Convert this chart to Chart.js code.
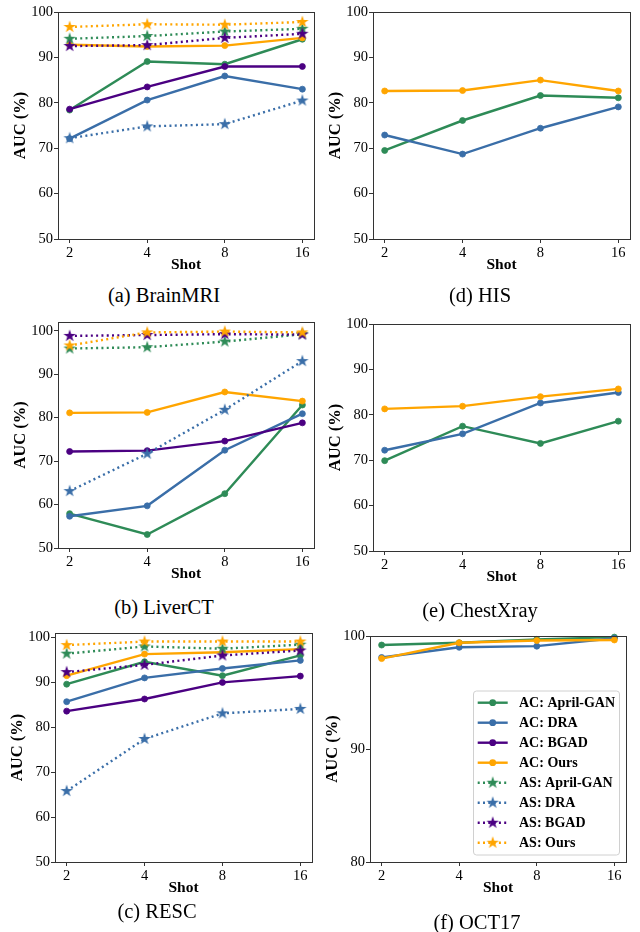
<!DOCTYPE html>
<html>
<head>
<meta charset="utf-8">
<script src="https://cdn.jsdelivr.net/npm/chart.js@4.4.0/dist/chart.umd.min.js"></script>
<style>
  body { margin: 0; background: #fff; width: 640px; height: 932px; position: relative; overflow: hidden; font-family: "Liberation Serif", serif; }
  canvas { position: absolute; }
  .cap { position: absolute; width: 320px; text-align: center; font-size: 20.5px; line-height: 24px; color: #000; white-space: nowrap; }
</style>
</head>
<body>
<canvas id="cA"></canvas>
<canvas id="cD"></canvas>
<canvas id="cB"></canvas>
<canvas id="cE"></canvas>
<canvas id="cC"></canvas>
<canvas id="cF"></canvas>
<div class="cap" style="left:4px;top:283px">(a) BrainMRI</div>
<div class="cap" style="left:320px;top:283px">(d) HIS</div>
<div class="cap" style="left:4px;top:595px">(b) LiverCT</div>
<div class="cap" style="left:320px;top:598px">(e) ChestXray</div>
<div class="cap" style="left:-3px;top:899px">(c) RESC</div>
<div class="cap" style="left:317px;top:910px">(f) OCT17</div>
<script>
// x categories and y tick labels
const shots = ['2', '4', '8', '16'];
const ticksAUC = [50, 60, 70, 80, 90, 100];
const ticksOCT = [80, 90, 100];
const methods = ['AC: April-GAN', 'AC: DRA', 'AC: BGAD', 'AC: Ours',
                 'AS: April-GAN', 'AS: DRA', 'AS: BGAD', 'AS: Ours'];

// (a) BrainMRI
const brain_AC_AprilGAN = [78.4, 89.1, 88.5, 94.0];
const brain_AC_DRA      = [72.1, 80.6, 85.9, 83.0];
const brain_AC_BGAD     = [78.6, 83.5, 88.0, 88.0];
const brain_AC_Ours     = [92.8, 92.4, 92.6, 94.3];
const brain_AS_AprilGAN = [94.1, 94.7, 95.7, 96.3];
const brain_AS_DRA      = [72.2, 74.8, 75.3, 80.5];
const brain_AS_BGAD     = [92.5, 92.7, 94.3, 95.2];
const brain_AS_Ours     = [96.7, 97.3, 97.2, 97.8];

// (d) HIS
const his_AC_AprilGAN = [69.5, 76.1, 81.6, 81.1];
const his_AC_DRA      = [72.9, 68.7, 74.4, 79.1];
const his_AC_Ours     = [82.6, 82.7, 85.0, 82.6];

// (b) LiverCT
const liver_AC_AprilGAN = [57.9, 53.1, 62.5, 82.9];
const liver_AC_DRA      = [57.3, 59.7, 72.5, 80.9];
const liver_AC_BGAD     = [72.2, 72.4, 74.6, 78.8];
const liver_AC_Ours     = [81.1, 81.2, 85.9, 83.8];
const liver_AS_AprilGAN = [95.9, 96.2, 97.5, 99.2];
const liver_AS_DRA      = [63.1, 71.7, 81.8, 93.0];
const liver_AS_BGAD     = [98.8, 99.0, 99.2, 99.1];
const liver_AS_Ours     = [96.6, 99.6, 99.8, 99.6];

// (e) ChestXray
const chest_AC_AprilGAN = [69.9, 77.5, 73.7, 78.6];
const chest_AC_DRA      = [72.2, 75.8, 82.6, 84.9];
const chest_AC_Ours     = [81.3, 81.9, 84.0, 85.7];

// (c) RESC
const resc_AC_AprilGAN = [89.6, 94.6, 91.5, 96.0];
const resc_AC_DRA      = [85.7, 91.0, 93.1, 94.9];
const resc_AC_BGAD     = [83.6, 86.3, 90.0, 91.4];
const resc_AC_Ours     = [91.5, 96.3, 96.7, 97.4];
const resc_AS_AprilGAN = [96.4, 98.0, 97.5, 98.4];
const resc_AS_DRA      = [65.8, 77.4, 83.1, 84.1];
const resc_AS_BGAD     = [92.3, 93.9, 96.0, 97.1];
const resc_AS_Ours     = [98.3, 99.1, 99.1, 99.1];

// (f) OCT17
const oct_AC_AprilGAN = [99.2, 99.4, 99.7, 99.9];
const oct_AC_DRA      = [98.1, 99.0, 99.1, 99.8];
const oct_AC_Ours     = [98.0, 99.4, 99.6, 99.65];

const GREEN = '#2E8B57', BLUE = '#3A6EA8', PURPLE = '#4B0082', ORANGE = '#FFA500';
const colors = [GREEN, BLUE, PURPLE, ORANGE, GREEN, BLUE, PURPLE, ORANGE];

function makeStar(color) {
    const ro = 6.6, ri = ro * 0.382, size = 16;
    const c = document.createElement('canvas');
    c.width = c.height = size;
    const g = c.getContext('2d');
    g.translate(size / 2, size / 2);
    g.beginPath();
    for (let k = 0; k < 10; k++) {
        const r = k % 2 ? ri : ro;
        const a = -Math.PI / 2 + k * Math.PI / 5;
        if (k == 0) g.moveTo(r * Math.cos(a), r * Math.sin(a));
        else g.lineTo(r * Math.cos(a), r * Math.sin(a));
    }
    g.closePath();
    g.fillStyle = color;
    g.fill();
    return c;
}
const stars = colors.map(makeStar);

const FONT = '"Liberation Serif", "Times New Roman", serif';

// panel geometry: plot rectangle in page pixels
const panels = [
    { id: 'cA', L: 58, T: 12, R: 314, B: 239, yMin: 50, yMax: 100, yTicks: ticksAUC,
      series: [[0, brain_AC_AprilGAN], [1, brain_AC_DRA], [2, brain_AC_BGAD], [3, brain_AC_Ours],
               [4, brain_AS_AprilGAN], [5, brain_AS_DRA], [6, brain_AS_BGAD], [7, brain_AS_Ours]] },
    { id: 'cD', L: 373, T: 12, R: 630, B: 239, yMin: 50, yMax: 100, yTicks: ticksAUC,
      series: [[0, his_AC_AprilGAN], [1, his_AC_DRA], [3, his_AC_Ours]] },
    { id: 'cB', L: 58, T: 322, R: 314, B: 548, yMin: 50, yMax: 102, yTicks: ticksAUC,
      series: [[0, liver_AC_AprilGAN], [1, liver_AC_DRA], [2, liver_AC_BGAD], [3, liver_AC_Ours],
               [4, liver_AS_AprilGAN], [5, liver_AS_DRA], [6, liver_AS_BGAD], [7, liver_AS_Ours]] },
    { id: 'cE', L: 373, T: 324, R: 630, B: 551, yMin: 50, yMax: 100, yTicks: ticksAUC,
      series: [[0, chest_AC_AprilGAN], [1, chest_AC_DRA], [3, chest_AC_Ours]] },
    { id: 'cC', L: 55, T: 633, R: 312, B: 862, yMin: 50, yMax: 101, yTicks: ticksAUC,
      series: [[0, resc_AC_AprilGAN], [1, resc_AC_DRA], [2, resc_AC_BGAD], [3, resc_AC_Ours],
               [4, resc_AS_AprilGAN], [5, resc_AS_DRA], [6, resc_AS_BGAD], [7, resc_AS_Ours]] },
    { id: 'cF', L: 370, T: 636, R: 626, B: 862, yMin: 80, yMax: 100, yTicks: ticksOCT, legend: true,
      series: [[0, oct_AC_AprilGAN], [1, oct_AC_DRA], [3, oct_AC_Ours]] }
];

const PAD_L = 58, PAD_T = 14, PAD_R = 10, PAD_B = 40;

const framePlugin = {
    id: 'frame',
    afterDraw(chart) {
        const a = chart.chartArea, ctx = chart.ctx;
        ctx.save();
        ctx.strokeStyle = '#333';
        ctx.lineWidth = 1;
        ctx.strokeRect(a.left + 0.5, a.top + 0.5, a.right - a.left, a.bottom - a.top);
        ctx.restore();
    }
};

function drawMarker(ctx, m, x, y) {
    if (m >= 4) {
        const s = stars[m];
        ctx.drawImage(s, x - s.width / 2, y - s.height / 2);
    } else {
        ctx.beginPath();
        ctx.arc(x, y, 3.4, 0, Math.PI * 2);
        ctx.fillStyle = colors[m];
        ctx.fill();
    }
}

// legend box of panel (f), listing all eight series
function makeLegend(p) {
    return {
        id: 'octLegend',
        afterDraw(chart) {
            const ctx = chart.ctx;
            const ox = p.L - PAD_L, oy = p.T - PAD_T;
            const bx = 473.5 - ox, by = 691 - oy, bw = 146, bh = 164;
            ctx.save();
            ctx.beginPath();
            ctx.roundRect(bx, by, bw, bh, 3);
            ctx.fillStyle = 'rgba(255,255,255,0.85)';
            ctx.fill();
            ctx.strokeStyle = '#d0d0d0';
            ctx.lineWidth = 1;
            ctx.stroke();
            ctx.font = 'bold 14px ' + FONT;
            ctx.textBaseline = 'middle';
            ctx.textAlign = 'left';
            methods.forEach((name, m) => {
                const y = 702.7 - oy + m * 20;
                const x0 = 477.7 - ox, x1 = 507.7 - ox;
                ctx.beginPath();
                ctx.setLineDash(m >= 4 ? [2, 3.3] : []);
                ctx.strokeStyle = colors[m];
                ctx.lineWidth = 2.4;
                ctx.moveTo(x0, y);
                ctx.lineTo(x1, y);
                ctx.stroke();
                ctx.setLineDash([]);
                drawMarker(ctx, m, (x0 + x1) / 2, y);
                ctx.fillStyle = '#000';
                ctx.fillText(name, 519 - ox, y + 1);
            });
            ctx.restore();
        }
    };
}

panels.forEach(p => {
    const cv = document.getElementById(p.id);
    const w = p.R - p.L + PAD_L + PAD_R;
    const h = p.B - p.T + PAD_T + PAD_B;
    cv.width = w;
    cv.height = h;
    cv.style.left = (p.L - PAD_L) + 'px';
    cv.style.top = (p.T - PAD_T) + 'px';

    const datasets = p.series.map(([m, vals]) => ({
        label: methods[m],
        data: vals.map((v, i) => ({ x: i, y: v })),
        borderColor: colors[m],
        backgroundColor: colors[m],
        borderWidth: 2.4,
        borderDash: m >= 4 ? [2, 3.3] : [],
        pointStyle: m >= 4 ? stars[m] : 'circle',
        pointRadius: m >= 4 ? 6 : 3,
        pointBorderWidth: 0.8,
        tension: 0,
        clip: false,
        order: -m
    }));

    const plugins = [framePlugin];
    if (p.legend) plugins.push(makeLegend(p));

    new Chart(cv, {
        type: 'line',
        data: { datasets: datasets },
        options: {
            responsive: false,
            animation: false,
            events: [],
            layout: { padding: { left: 0, top: PAD_T, right: PAD_R, bottom: 0 } },
            plugins: { legend: { display: false }, tooltip: { enabled: false } },
            scales: {
                x: {
                    type: 'linear',
                    min: -0.15,
                    max: 3.15,
                    afterBuildTicks: s => { s.ticks = shots.map((t, i) => ({ value: i })); },
                    afterFit: s => { s.height = PAD_B; },
                    ticks: {
                        callback: v => shots[v],
                        font: { family: FONT, size: 14.5 },
                        color: '#000',
                        padding: 1,
                        maxRotation: 0
                    },
                    grid: { drawOnChartArea: false, drawTicks: true, tickLength: 4, color: '#333' },
                    border: { display: false },
                    title: {
                        display: true,
                        text: 'Shot',
                        font: { family: FONT, size: 15.5, weight: 'bold' },
                        color: '#000',
                        padding: { top: 0, bottom: 5 }
                    }
                },
                y: {
                    type: 'linear',
                    min: p.yMin,
                    max: p.yMax,
                    afterBuildTicks: s => { s.ticks = p.yTicks.map(v => ({ value: v })); },
                    afterFit: s => { s.width = PAD_L; },
                    ticks: {
                        callback: v => String(v),
                        font: { family: FONT, size: 14.5 },
                        color: '#000',
                        padding: 1
                    },
                    grid: { drawOnChartArea: false, drawTicks: true, tickLength: 4, color: '#333' },
                    border: { display: false },
                    title: {
                        display: true,
                        text: 'AUC (%)',
                        font: { family: FONT, size: 16.5, weight: 'bold' },
                        color: '#000',
                        padding: { top: 11, bottom: 0 }
                    }
                }
            }
        },
        plugins: plugins
    });
});
</script>
</body>
</html>
